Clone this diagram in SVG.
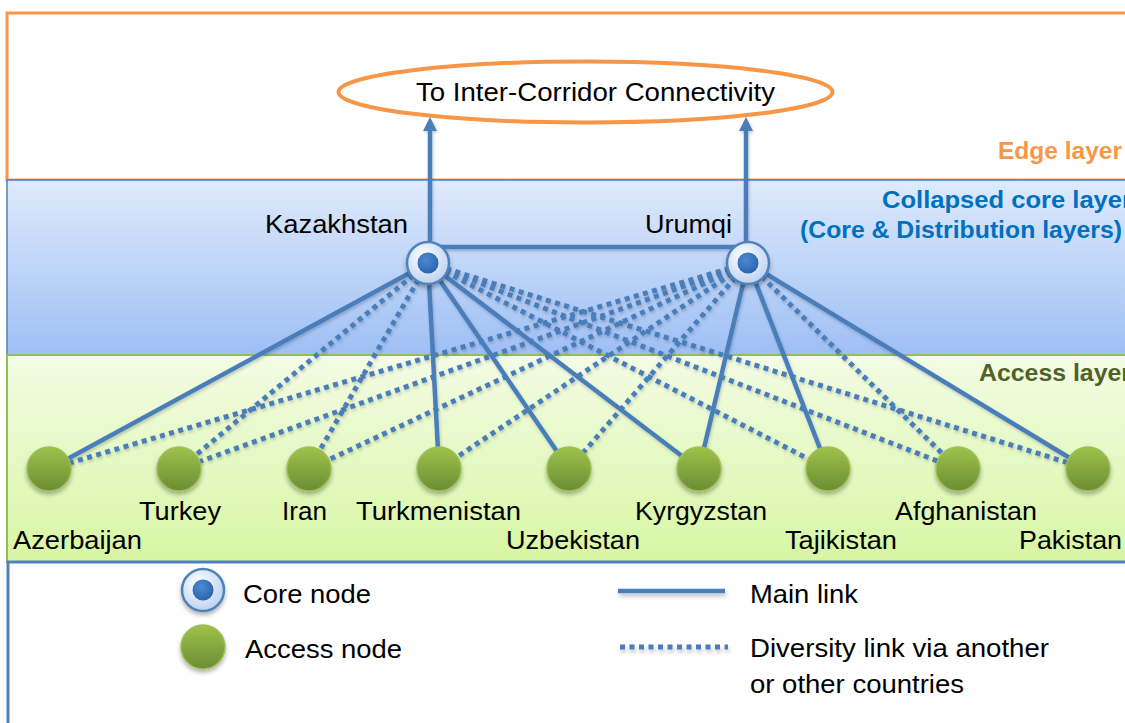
<svg xmlns="http://www.w3.org/2000/svg" width="1125" height="723" viewBox="0 0 1125 723">
  <style>
    .lbl { font-family: "Liberation Sans", Arial, sans-serif; font-size: 25px; fill: #000; }
    .lay { font-family: "Liberation Sans", Arial, sans-serif; font-size: 23px; font-weight: bold; }
    .main { stroke: #4a7ebb; stroke-width: 4.5; fill: none; stroke-linecap: butt; }
    .div { stroke: #4a7ebb; stroke-width: 5; fill: none; stroke-dasharray: 5 4.5; }
    .acc { fill: url(#gAcc); stroke: #9cbf56; stroke-width: 1.5; filter: url(#sh); }
    .coreO { fill: url(#gCoreO); stroke: #4f81bd; stroke-width: 2.5; filter: url(#sh); }
    .coreI { fill: url(#gCoreI); }
  </style>
  <defs>
    <linearGradient id="gCore" x1="0" y1="0" x2="0" y2="1">
      <stop offset="0" stop-color="#dfeafc"/>
      <stop offset="1" stop-color="#9ebff4"/>
    </linearGradient>
    <linearGradient id="gAccL" x1="0" y1="0" x2="0" y2="1">
      <stop offset="0" stop-color="#f3fce5"/>
      <stop offset="1" stop-color="#d7f6a3"/>
    </linearGradient>
    <linearGradient id="gAcc" x1="0" y1="0" x2="0" y2="1">
      <stop offset="0" stop-color="#9fc24a"/>
      <stop offset="1" stop-color="#6b8c34"/>
    </linearGradient>
    <radialGradient id="gCoreO" cx="0.4" cy="0.35" r="0.7">
      <stop offset="0" stop-color="#ffffff"/>
      <stop offset="1" stop-color="#b9cff0"/>
    </radialGradient>
    <radialGradient id="gCoreI" cx="0.4" cy="0.35" r="0.7">
      <stop offset="0" stop-color="#4d8ad3"/>
      <stop offset="1" stop-color="#2a62ad"/>
    </radialGradient>
    <filter id="sh" x="-30%" y="-30%" width="160%" height="170%">
      <feDropShadow dx="0" dy="3" stdDeviation="2" flood-color="#000" flood-opacity="0.3"/>
    </filter>
    <filter id="lsh" x="-5%" y="-5%" width="110%" height="120%">
      <feDropShadow dx="1" dy="2" stdDeviation="1.5" flood-color="#000" flood-opacity="0.2"/>
    </filter>
    <filter id="lshU" filterUnits="userSpaceOnUse" x="600" y="570" width="150" height="100">
      <feDropShadow dx="1" dy="3" stdDeviation="2" flood-color="#000" flood-opacity="0.25"/>
    </filter>
    <marker id="arr" markerUnits="userSpaceOnUse" markerWidth="14" markerHeight="14" viewBox="0 0 14 14" refX="0" refY="7" orient="auto">
      <path d="M0,0 L14,7 L0,14 z" fill="#4a7ebb"/>
    </marker>
  </defs>

  <g id="layers">
    <rect id="edge-layer" x="7" y="13" width="1130" height="167" fill="#ffffff" stroke="#f79646" stroke-width="3"/>
    <rect id="core-layer" x="7" y="180" width="1130" height="175" fill="url(#gCore)" stroke="#4f81bd" stroke-width="1.5"/>
    <rect id="access-layer" x="7" y="355" width="1130" height="207" fill="url(#gAccL)" stroke="#9bbb59" stroke-width="2"/>
    <rect id="legend-box" x="8" y="562" width="1130" height="180" fill="#ffffff" stroke="#4f81bd" stroke-width="3"/>
    <text class="lay" x="998" y="159" fill="#f79646" textLength="124" lengthAdjust="spacingAndGlyphs">Edge layer</text>
    <text class="lay" x="882" y="208" fill="#0070c0" textLength="250" lengthAdjust="spacingAndGlyphs">Collapsed core layer</text>
    <text class="lay" x="800" y="238" fill="#0070c0" textLength="322" lengthAdjust="spacingAndGlyphs">(Core &amp; Distribution layers)</text>
    <text class="lay" x="979" y="381" fill="#4f6228" textLength="152" lengthAdjust="spacingAndGlyphs">Access layer</text>
  </g>

  <g id="target">
    <ellipse cx="585.5" cy="92" rx="247" ry="30.5" fill="#ffffff" stroke="#f79646" stroke-width="4"/>
    <text class="lbl" x="416" y="101" textLength="359" lengthAdjust="spacingAndGlyphs">To Inter-Corridor Connectivity</text>
  </g>

  <g id="connectors" filter="url(#lsh)">
    <line class="main" x1="430" y1="245" x2="430" y2="131" marker-end="url(#arr)"/>
    <line class="main" x1="746" y1="245" x2="746" y2="131" marker-end="url(#arr)"/>
    <line class="main" x1="428" y1="247" x2="748" y2="247"/>
    <line class="main" x1="428" y1="263" x2="49" y2="469"/>
    <line class="main" x1="428" y1="263" x2="439" y2="469"/>
    <line class="main" x1="428" y1="263" x2="569" y2="469"/>
    <line class="main" x1="428" y1="263" x2="699" y2="469"/>
    <line class="main" x1="748" y1="263" x2="699" y2="469"/>
    <line class="main" x1="748" y1="263" x2="828" y2="469"/>
    <line class="main" x1="748" y1="263" x2="1088" y2="469"/>
    <line class="div" x1="428" y1="263" x2="179" y2="469"/>
    <line class="div" x1="428" y1="263" x2="309" y2="469"/>
    <line class="div" x1="428" y1="263" x2="828" y2="469"/>
    <line class="div" x1="428" y1="263" x2="958" y2="469"/>
    <line class="div" x1="428" y1="263" x2="1088" y2="469"/>
    <line class="div" x1="748" y1="263" x2="49" y2="469"/>
    <line class="div" x1="748" y1="263" x2="179" y2="469"/>
    <line class="div" x1="748" y1="263" x2="309" y2="469"/>
    <line class="div" x1="748" y1="263" x2="439" y2="469"/>
    <line class="div" x1="748" y1="263" x2="569" y2="469"/>
    <line class="div" x1="748" y1="263" x2="958" y2="469"/>
  </g>

  <g id="node-kazakhstan">
    <circle class="coreO" cx="428" cy="263" r="21"/>
    <circle class="coreI" cx="428" cy="263" r="10.5"/>
    <text class="lbl" x="265" y="233" textLength="143" lengthAdjust="spacingAndGlyphs">Kazakhstan</text>
  </g>
  <g id="node-urumqi">
    <circle class="coreO" cx="748" cy="263" r="21"/>
    <circle class="coreI" cx="748" cy="263" r="10.5"/>
    <text class="lbl" x="645" y="233" textLength="87" lengthAdjust="spacingAndGlyphs">Urumqi</text>
  </g>

  <g id="node-azerbaijan">
    <circle class="acc" cx="49" cy="469" r="22"/>
    <text class="lbl" x="13" y="549" textLength="129" lengthAdjust="spacingAndGlyphs">Azerbaijan</text>
  </g>
  <g id="node-turkey">
    <circle class="acc" cx="179" cy="469" r="22"/>
    <text class="lbl" x="139" y="520" textLength="82" lengthAdjust="spacingAndGlyphs">Turkey</text>
  </g>
  <g id="node-iran">
    <circle class="acc" cx="309" cy="469" r="22"/>
    <text class="lbl" x="282" y="520" textLength="45" lengthAdjust="spacingAndGlyphs">Iran</text>
  </g>
  <g id="node-turkmenistan">
    <circle class="acc" cx="439" cy="469" r="22"/>
    <text class="lbl" x="356" y="520" textLength="165" lengthAdjust="spacingAndGlyphs">Turkmenistan</text>
  </g>
  <g id="node-uzbekistan">
    <circle class="acc" cx="569" cy="469" r="22"/>
    <text class="lbl" x="506" y="549" textLength="134" lengthAdjust="spacingAndGlyphs">Uzbekistan</text>
  </g>
  <g id="node-kyrgyzstan">
    <circle class="acc" cx="699" cy="469" r="22"/>
    <text class="lbl" x="635" y="520" textLength="132" lengthAdjust="spacingAndGlyphs">Kyrgyzstan</text>
  </g>
  <g id="node-tajikistan">
    <circle class="acc" cx="828" cy="469" r="22"/>
    <text class="lbl" x="785" y="549" textLength="112" lengthAdjust="spacingAndGlyphs">Tajikistan</text>
  </g>
  <g id="node-afghanistan">
    <circle class="acc" cx="958" cy="469" r="22"/>
    <text class="lbl" x="895" y="520" textLength="142" lengthAdjust="spacingAndGlyphs">Afghanistan</text>
  </g>
  <g id="node-pakistan">
    <circle class="acc" cx="1088" cy="469" r="22"/>
    <text class="lbl" x="1019" y="549" textLength="103" lengthAdjust="spacingAndGlyphs">Pakistan</text>
  </g>

  <g id="legend">
    <g id="legend-core">
      <circle class="coreO" cx="203" cy="590" r="21"/>
      <circle class="coreI" cx="203" cy="590" r="10.5"/>
      <text class="lbl" x="243" y="603" textLength="128" lengthAdjust="spacingAndGlyphs">Core node</text>
    </g>
    <g id="legend-access">
      <circle class="acc" cx="203" cy="647" r="22"/>
      <text class="lbl" x="245" y="658" textLength="157" lengthAdjust="spacingAndGlyphs">Access node</text>
    </g>
    <g id="legend-links" filter="url(#lshU)">
      <line class="main" x1="618" y1="591" x2="725" y2="591" stroke-width="6"/>
      <line class="div" x1="620" y1="647" x2="728" y2="647" stroke-width="6"/>
    </g>
    <text class="lbl" x="750" y="603" textLength="108" lengthAdjust="spacingAndGlyphs">Main link</text>
    <text class="lbl" x="750" y="657" textLength="299" lengthAdjust="spacingAndGlyphs">Diversity link via another</text>
    <text class="lbl" x="750" y="693" textLength="214" lengthAdjust="spacingAndGlyphs">or other countries</text>
  </g>
</svg>
